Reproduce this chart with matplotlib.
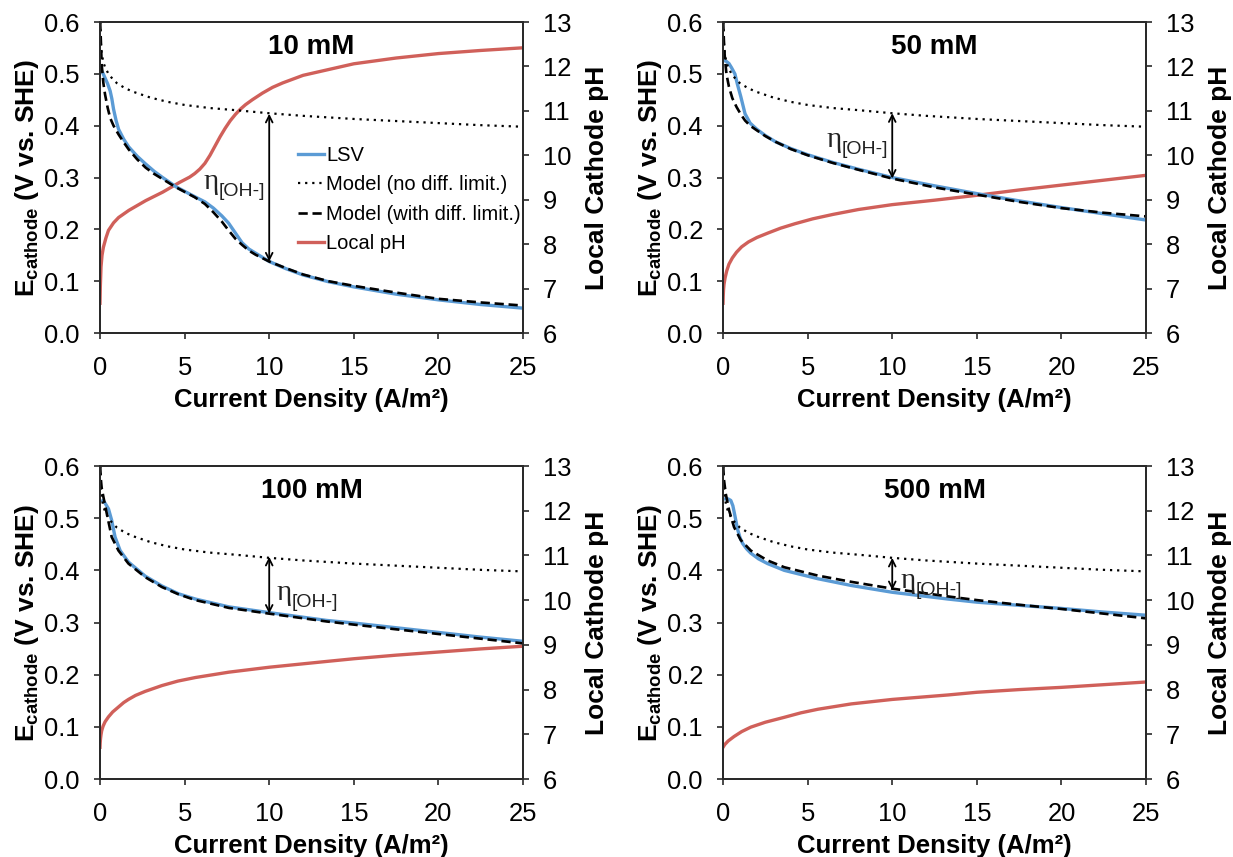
import matplotlib
matplotlib.use("Agg")
import matplotlib.pyplot as plt

plt.rcParams["font.family"] = ["Liberation Sans", "DejaVu Sans"]
plt.rcParams["mathtext.fontset"] = "custom"
plt.rcParams["mathtext.rm"] = "Liberation Sans"
plt.rcParams["mathtext.bf"] = "Liberation Sans:bold"

# Model without diffusion limitation (same in every panel)
j_nodiff = [0.01, 0.05, 0.1, 0.2, 0.3, 0.5, 0.75, 1, 1.5, 2, 3, 4, 5, 6.5, 8, 10,
            12, 15, 17.5, 20, 22.5, 25]
e_nodiff = [0.600, 0.560, 0.540, 0.522, 0.513, 0.500, 0.490, 0.482, 0.472, 0.465,
            0.454, 0.446, 0.440, 0.434, 0.430, 0.424, 0.419, 0.413, 0.409, 0.405,
            0.401, 0.398]

# 10 mM
j_model_10 = [0.01, 0.05, 0.1, 0.2, 0.3, 0.45, 0.6, 0.8, 1.1, 1.4, 1.7, 2.2, 2.7, 3.2,
              3.7, 4.5, 5.6, 6.2, 6.7, 7.2, 7.6, 8.0, 8.4, 8.8, 9.2, 10, 11, 12, 13.5,
              15, 17.5, 20, 22.5, 25]
e_model_10 = [0.600, 0.565, 0.518, 0.482, 0.460, 0.435, 0.415, 0.400, 0.383, 0.368,
              0.354, 0.335, 0.319, 0.307, 0.297, 0.281, 0.262, 0.249, 0.233, 0.215,
              0.198, 0.182, 0.170, 0.159, 0.151, 0.138, 0.125, 0.113, 0.100, 0.091,
              0.078, 0.066, 0.059, 0.053]
j_lsv_10 = [0.02, 0.15, 0.3, 0.45, 0.6, 0.7, 0.8, 0.95, 1.1, 1.4, 1.7, 2.2, 2.7, 3.2,
            3.7, 4.5, 5.6, 6.2, 6.7, 7.2, 7.6, 8.0, 8.4, 8.8, 9.2, 10, 11, 12, 13.5,
            15, 17.5, 20, 22.5, 25]
e_lsv_10 = [0.510, 0.503, 0.492, 0.481, 0.467, 0.452, 0.432, 0.410, 0.393, 0.374,
            0.359, 0.341, 0.326, 0.312, 0.300, 0.282, 0.263, 0.253, 0.241, 0.226,
            0.212, 0.193, 0.174, 0.162, 0.154, 0.138, 0.124, 0.112, 0.099, 0.089,
            0.075, 0.064, 0.055, 0.048]
j_ph_10 = [0.0, 0.02, 0.06, 0.12, 0.2, 0.35, 0.5, 0.8, 1.1, 1.7, 2.7, 3.7, 4.7, 5.3,
           5.6, 5.9, 6.2, 6.5, 6.8, 7.1, 7.4, 7.7, 8.0, 8.3, 8.6, 9.0, 9.6, 10.2, 10.8,
           12, 13.5, 15, 17.5, 20, 22.5, 25]
ph_10 = [6.67, 7.05, 7.49, 7.75, 7.93, 8.14, 8.31, 8.48, 8.60, 8.76, 8.98, 9.17,
         9.39, 9.51, 9.59, 9.69, 9.82, 10.00, 10.21, 10.42, 10.61, 10.78, 10.92,
         11.04, 11.14, 11.25, 11.40, 11.53, 11.63, 11.80, 11.93, 12.06, 12.19, 12.29,
         12.36, 12.42]

# 50 mM
j_model_50 = [0.01, 0.05, 0.1, 0.2, 0.35, 0.55, 0.8, 1.05, 1.3, 1.6, 2.0, 2.5, 3.1,
              4.0, 5.0, 6.5, 8, 10, 12.5, 15, 17.5, 20, 22.5, 25]
e_model_50 = [0.600, 0.565, 0.535, 0.500, 0.475, 0.453, 0.436, 0.422, 0.410, 0.400,
              0.391, 0.380, 0.369, 0.355, 0.343, 0.328, 0.315, 0.298, 0.281, 0.267,
              0.253, 0.241, 0.232, 0.225]
j_lsv_50 = [0.05, 0.2, 0.35, 0.5, 0.7, 0.85, 1.05, 1.3, 1.6, 2.0, 2.5, 3.1, 4.0, 5.0,
            6.5, 8, 10, 12.5, 15, 17.5, 20, 22.5, 25]
e_lsv_50 = [0.526, 0.524, 0.520, 0.512, 0.500, 0.480, 0.456, 0.423, 0.405, 0.393,
            0.381, 0.369, 0.356, 0.344, 0.329, 0.316, 0.300, 0.284, 0.269, 0.255,
            0.242, 0.230, 0.218]
j_ph_50 = [0.0, 0.01, 0.03, 0.06, 0.12, 0.22, 0.35, 0.55, 0.8, 1.1, 1.5, 2.0, 2.65,
           3.4, 4.25, 5.3, 6.5, 8, 10, 12.5, 15, 17.5, 20, 22.5, 25]
ph_50 = [6.67, 6.82, 6.98, 7.10, 7.24, 7.40, 7.55, 7.69, 7.82, 7.94, 8.05, 8.15,
         8.25, 8.36, 8.46, 8.57, 8.67, 8.78, 8.89, 8.99, 9.10, 9.22, 9.33, 9.44, 9.55]

# 100 mM
j_model_100 = [0.01, 0.05, 0.1, 0.2, 0.4, 0.69, 1.09, 1.68, 2.67, 3.66, 4.65, 5.64,
               7.62, 10, 13.4, 15, 17.5, 20, 22.5, 25]
e_model_100 = [0.600, 0.575, 0.558, 0.541, 0.509, 0.464, 0.438, 0.413, 0.387, 0.368,
               0.354, 0.343, 0.328, 0.317, 0.302, 0.296, 0.287, 0.278, 0.269, 0.260]
j_lsv_100 = [0.15, 0.26, 0.5, 0.69, 0.89, 1.19, 1.68, 2.67, 3.66, 4.65, 5.64, 7.62, 10,
             13.4, 15, 17.5, 20, 22.5, 25]
e_lsv_100 = [0.533, 0.531, 0.518, 0.496, 0.464, 0.438, 0.416, 0.389, 0.370, 0.355,
             0.345, 0.330, 0.319, 0.304, 0.299, 0.290, 0.281, 0.272, 0.264]
j_ph_100 = [0.0, 0.01, 0.03, 0.06, 0.1, 0.18, 0.3, 0.5, 0.75, 1.09, 1.4, 1.68, 2.1,
            2.67, 3.66, 4.6, 5.64, 7.62, 10, 13.4, 15, 17.5, 20, 22.5, 25]
ph_100 = [6.71, 6.80, 6.90, 6.99, 7.08, 7.18, 7.28, 7.39, 7.50, 7.61, 7.71, 7.78,
          7.87, 7.96, 8.09, 8.19, 8.27, 8.39, 8.50, 8.63, 8.69, 8.77, 8.84, 8.91, 8.97]

# 500 mM
j_model_500 = [0.01, 0.05, 0.16, 0.36, 0.65, 1.05, 1.64, 2.63, 3.62, 5.6, 7.58, 10,
               13.3, 15, 17.5, 20, 22.5, 25]
e_model_500 = [0.600, 0.575, 0.547, 0.515, 0.483, 0.458, 0.438, 0.419, 0.406, 0.390,
               0.378, 0.365, 0.350, 0.343, 0.334, 0.326, 0.317, 0.308]
j_lsv_500 = [0.16, 0.3, 0.46, 0.58, 0.7, 0.85, 1.0, 1.15, 1.4, 1.64, 2.1, 2.63, 3.62,
             5.6, 7.58, 10, 13.3, 15, 17.5, 20, 22.5, 25]
e_lsv_500 = [0.537, 0.537, 0.534, 0.524, 0.505, 0.480, 0.463, 0.452, 0.441, 0.433,
             0.422, 0.413, 0.400, 0.384, 0.371, 0.358, 0.345, 0.339, 0.333, 0.327,
             0.320, 0.314]
j_ph_500 = [0.0, 0.1, 0.3, 0.65, 1.1, 1.64, 2.5, 3.62, 4.6, 5.6, 7.58, 10, 13.3, 15,
            17.5, 20, 22.5, 25]
ph_500 = [6.71, 6.77, 6.85, 6.95, 7.06, 7.16, 7.27, 7.38, 7.48, 7.56, 7.68, 7.78,
          7.88, 7.94, 8.00, 8.05, 8.11, 8.17]

titles = ["10 mM", "50 mM", "100 mM", "500 mM"]
# overpotential arrow at 10 A/m2: (top, bottom)
eta_arrows = [(0.423, 0.138), (0.424, 0.298), (0.426, 0.317), (0.424, 0.362)]
eta_labels = [(6.1, 0.277), (6.1, 0.359), (10.45, 0.343), (10.5, 0.366)]

panels = [
    (j_lsv_10, e_lsv_10, j_model_10, e_model_10, j_ph_10, ph_10),
    (j_lsv_50, e_lsv_50, j_model_50, e_model_50, j_ph_50, ph_50),
    (j_lsv_100, e_lsv_100, j_model_100, e_model_100, j_ph_100, ph_100),
    (j_lsv_500, e_lsv_500, j_model_500, e_model_500, j_ph_500, ph_500),
]

BLUE = "#5b9bd5"
RED = "#d0605a"
SPINE = "#2a2a2a"

fig = plt.figure(figsize=(12.33, 8.57), dpi=100)
positions = [
    [0.0811, 0.6114, 0.3431, 0.3629],
    [0.5864, 0.6114, 0.3431, 0.3629],
    [0.0811, 0.0910, 0.3431, 0.3652],
    [0.5864, 0.0910, 0.3431, 0.3652],
]

for k, (pos, data) in enumerate(zip(positions, panels)):
    jl, el, jm, em, jp, ph = data
    ax = fig.add_axes(pos)
    ax2 = ax.twinx()
    ax.set_zorder(ax2.get_zorder() + 1)
    ax.patch.set_visible(False)

    ax2.plot(jp, ph, color=RED, lw=2.4, label="Local pH")
    ax.plot(jl, el, color=BLUE, lw=2.4, label="LSV")
    ax.plot(j_nodiff, e_nodiff, color="black", lw=1.6, ls=(0, (1, 2.2)),
            label="Model (no diff. limit.)")
    ax.plot(jm, em, color="black", lw=1.9, ls=(0, (3.5, 1.8)),
            label="Model (with diff. limit.)")

    ax.set_xlim(0, 25)
    ax.set_ylim(0, 0.6)
    ax2.set_ylim(6, 13)
    ax.set_xticks([0, 5, 10, 15, 20, 25])
    ax.set_yticks([0, 0.1, 0.2, 0.3, 0.4, 0.5, 0.6])
    ax.set_yticklabels(["0.0", "0.1", "0.2", "0.3", "0.4", "0.5", "0.6"])
    ax2.set_yticks(range(6, 14))

    for a in (ax, ax2):
        for s in a.spines.values():
            s.set_color(SPINE)
            s.set_linewidth(1.4)
        a.tick_params(direction="out", length=4.5, width=1.2, colors=SPINE,
                      labelcolor="black", labelsize=18.4, pad=10)
    ax.tick_params(axis="x", pad=12)

    ax.set_xlabel("Current Density (A/m²)", fontsize=18.5, fontweight="bold",
                  va="center")
    ax.xaxis.set_label_coords(0.5, -0.215)
    ax.set_ylabel(r"$\mathbf{E_{cathode}}$ (V vs. SHE)", fontsize=19,
                  fontweight="bold", va="center")
    ax.yaxis.set_label_coords(-0.172, 0.5)
    ax2.set_ylabel("Local Cathode pH", fontsize=19, fontweight="bold", va="center")
    ax2.yaxis.set_label_coords(1.175, 0.5)

    ax.text(0.5, 0.92, titles[k], transform=ax.transAxes, ha="center", va="center",
            fontsize=20, fontweight="bold")

    top, bot = eta_arrows[k]
    ax.annotate("", xy=(10, bot), xytext=(10, top),
                arrowprops=dict(arrowstyle="<->", lw=1.3, color="black",
                                shrinkA=0, shrinkB=0, mutation_scale=12))
    lx, ly = eta_labels[k]
    ax.text(lx, ly, "η", fontsize=21, family=["Liberation Serif", "DejaVu Serif"],
            ha="left", va="baseline", color="#222222")
    ax.annotate("[OH-]", xy=(lx, ly), xycoords="data", xytext=(11, -5),
                textcoords="offset points", fontsize=14, ha="left",
                va="baseline", color="#222222")

    if k == 0:
        h1, l1 = ax.get_legend_handles_labels()
        h2, l2 = ax2.get_legend_handles_labels()
        ax.legend(h1 + h2, l1 + l2, loc="upper left", bbox_to_anchor=(0.468, 0.60),
                  frameon=False, fontsize=14.5, handlelength=1.3, handletextpad=0.1,
                  labelspacing=0.5, borderpad=0, borderaxespad=0)

fig.savefig("out.png", dpi=100)
